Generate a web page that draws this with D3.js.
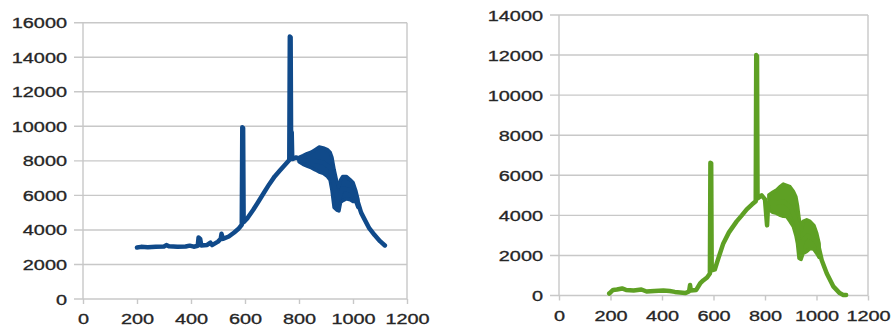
<!DOCTYPE html>
<html>
<head>
<meta charset="utf-8">
<script src="https://cdn.jsdelivr.net/npm/d3@7/dist/d3.min.js"></script>
<style>
  body { margin: 0; background: #fff; }
  svg { display: block; }
</style>
</head>
<body>
<div id="chart"></div>
<script>
// Shared x ticks
const xTicks = [0, 200, 400, 600, 800, 1000, 1200];

// Left panel (blue)
const blueYTicks = [0, 2000, 4000, 6000, 8000, 10000, 12000, 14000, 16000];
const blueLine = [
  [200, 2980], [215, 3020], [240, 3000], [270, 3030], [300, 3040], [310, 3120],
  [318, 3050], [350, 3020], [380, 3040], [395, 3090], [410, 3030], [425, 3080],
  [428, 3560], [434, 3480], [438, 3100], [460, 3130], [472, 3260], [478, 3120],
  [500, 3320], [510, 3480], [513, 3780], [518, 3480], [540, 3620], [560, 3850],
  [575, 4050], [588, 4300], [590, 9950], [593, 9900], [595, 4450], [610, 4700],
  [630, 5150], [650, 5650], [670, 6150], [690, 6650], [710, 7100], [730, 7450],
  [750, 7800], [764, 8050], [766, 15200], [769, 15150], [771, 8150], [773, 9650],
  [775, 8100], [790, 8200], [805, 8050], [830, 8000], [860, 8000], [890, 7900],
  [915, 7600], [935, 6200], [948, 5800], [960, 6400], [990, 6300], [1010, 6000],
  [1020, 5500], [1030, 5000], [1040, 4700], [1060, 4100], [1080, 3700],
  [1100, 3350], [1118, 3100]
];
// noisy band: [x, low, high]
const blueBand = [
  [800, 7950, 8200], [815, 7800, 8300], [830, 7700, 8420], [845, 7600, 8500],
  [860, 7480, 8650], [875, 7350, 8800], [890, 7280, 8750], [905, 7100, 8650],
  [915, 6900, 8500], [922, 6300, 8200], [930, 5300, 7500], [940, 5150, 6800],
  [948, 5100, 6500], [954, 5600, 6900], [962, 5700, 7100], [975, 5800, 7100],
  [990, 5750, 6900], [1000, 5650, 6750], [1010, 5650, 6300], [1018, 5300, 5800]
];

// Right panel (green)
const greenYTicks = [0, 2000, 4000, 6000, 8000, 10000, 12000, 14000];
const greenLine = [
  [195, 100], [200, 160], [210, 280], [225, 300], [245, 350], [260, 280],
  [290, 250], [320, 300], [340, 200], [370, 230], [405, 250], [430, 220],
  [450, 180], [470, 150], [490, 120], [505, 200], [509, 520], [512, 250],
  [533, 280], [548, 600], [560, 750], [575, 900], [586, 1100], [588, 6630],
  [591, 6600], [593, 1250], [605, 1300], [620, 1900], [638, 2600], [660, 3150],
  [690, 3700], [710, 4000], [729, 4300], [750, 4550], [764, 4700], [766, 12000],
  [769, 11950], [771, 4850], [787, 5000], [800, 4800], [808, 3500], [812, 4600],
  [840, 4600], [870, 4700], [900, 4400], [925, 3600], [936, 2000], [945, 2700],
  [965, 3000], [990, 2800], [1005, 2600], [1020, 1770], [1040, 1100],
  [1066, 440], [1090, 120], [1104, 30], [1115, 20]
];
const greenBand = [
  [815, 4300, 5020], [830, 4150, 5150], [845, 4100, 5270], [860, 4000, 5450],
  [871, 3950, 5560], [884, 3940, 5500], [897, 3700, 5430], [910, 3440, 5200],
  [920, 3000, 4930], [926, 2600, 4500], [932, 1860, 3900], [940, 1800, 3200],
  [948, 2100, 3700], [962, 2200, 3780], [975, 2350, 3700], [990, 2300, 3500],
  [1001, 2100, 3100], [1010, 1900, 2600]
];

const W = 893, H = 327;
const svg = d3.select('#chart').append('svg').attr('width', W).attr('height', H);

const SX = 1.42; // reference text is stretched horizontally
const fmt = d3.format('d');

function styleText(sel) {
  sel
    .attr('transform', `scale(${SX},1)`)
    .attr('fill', '#262626')
    .attr('stroke', '#262626')
    .attr('stroke-width', 0.3)
    .attr('font-size', '14px')
    .attr('font-family', 'Liberation Sans, Arial, sans-serif');
}

function drawPanel(p) {
  const width = p.right - p.left;
  const height = p.bottom - p.top;
  const g = svg.append('g').attr('transform', `translate(${p.left},${p.top})`);

  const x = d3.scaleLinear().domain([0, 1200]).range([0, width]);
  const y = d3.scaleLinear().domain([0, p.yMax]).range([height, 0]);

  // Gridlines
  g.append('g')
    .selectAll('line')
    .data(p.yTicks)
    .enter()
    .append('line')
    .attr('x1', -9)
    .attr('x2', width)
    .attr('y1', (d) => y(d))
    .attr('y2', (d) => y(d))
    .attr('stroke', '#c8c8c8')
    .attr('stroke-width', 1.4);

  // Y axis labels
  const ya = g.append('g').call(d3.axisLeft(y).tickValues(p.yTicks).tickFormat(fmt).tickSize(0));
  ya.select('.domain').remove();
  ya.selectAll('text')
    .attr('x', -16 / SX)
    .attr('dy', '0.36em')
    .call(styleText);

  // X axis
  const xa = g.append('g')
    .attr('transform', `translate(0,${height})`)
    .call(d3.axisBottom(x).tickValues(xTicks).tickFormat(fmt).tickSize(5));
  xa.select('.domain').remove();
  xa.selectAll('.tick line').attr('stroke', '#c8c8c8').attr('stroke-width', 1.4);
  xa.selectAll('text')
    .attr('y', p.xLabelY)
    .attr('dy', 0)
    .call(styleText);

  // Plot border verticals
  [0, width].forEach((vx) => {
    g.append('line')
      .attr('x1', vx).attr('x2', vx)
      .attr('y1', 0).attr('y2', height)
      .attr('stroke', '#c8c8c8')
      .attr('stroke-width', 1.4);
  });

  // Noisy band
  g.append('path')
    .datum(p.band)
    .attr('d', d3.area().x((d) => x(d[0])).y0((d) => y(d[1])).y1((d) => y(d[2])))
    .attr('fill', p.color)
    .attr('stroke', p.color)
    .attr('stroke-width', 3.5)
    .attr('stroke-linejoin', 'round');

  // Main line
  g.append('path')
    .datum(p.line)
    .attr('d', d3.line().x((d) => x(d[0])).y((d) => y(d[1])))
    .attr('fill', 'none')
    .attr('stroke', p.color)
    .attr('stroke-width', 4.5)
    .attr('stroke-linejoin', 'round')
    .attr('stroke-linecap', 'round');
}

drawPanel({
  left: 83, right: 407, top: 22.7, bottom: 299,
  yMax: 16000, yTicks: blueYTicks, xLabelY: 25,
  line: blueLine, band: blueBand, color: '#104a8a'
});

drawPanel({
  left: 559, right: 868, top: 15, bottom: 295.5,
  yMax: 14000, yTicks: greenYTicks, xLabelY: 26,
  line: greenLine, band: greenBand, color: '#5ea024'
});
</script>
</body>
</html>
